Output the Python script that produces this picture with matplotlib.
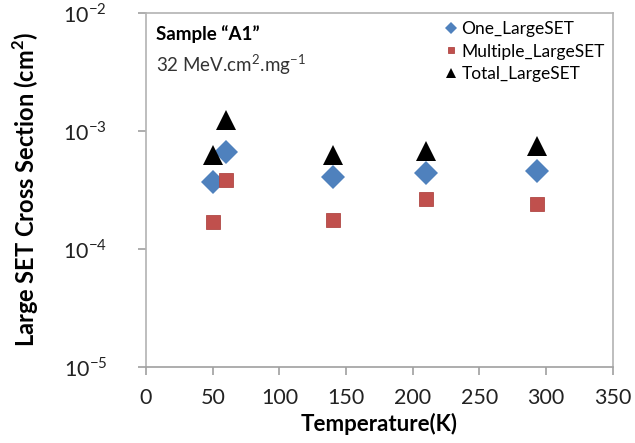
import matplotlib
matplotlib.use('Agg')
import matplotlib.pyplot as plt

plt.rcParams['font.family'] = ['Lato', 'DejaVu Sans']
plt.rcParams['mathtext.fontset'] = 'custom'
plt.rcParams['mathtext.rm'] = 'Lato'
plt.rcParams['mathtext.bf'] = 'Lato:bold'

# temperatures (K) and cross sections (cm^2)
temp = [50, 60, 140, 210, 293]
one_large = [3.65e-4, 6.6e-4, 4.05e-4, 4.35e-4, 4.55e-4]
multiple_large = [1.68e-4, 3.8e-4, 1.75e-4, 2.62e-4, 2.4e-4]
total_large = [6.2e-4, 1.23e-3, 6.25e-4, 6.8e-4, 7.4e-4]

x_ticks = [0, 50, 100, 150, 200, 250, 300, 350]
y_ticks = [1e-5, 1e-4, 1e-3, 1e-2]
y_tick_labels = ['$10^{-5}$', '$10^{-4}$', '$10^{-3}$', '$10^{-2}$']

fig = plt.figure(figsize=(6.35, 4.43), dpi=100)
ax = fig.add_axes([0.230, 0.172, 0.735, 0.799])

ax.plot(temp, one_large, 'D', color='#4f81bd', markersize=12, markeredgewidth=0,
        label='One_LargeSET')
ax.plot(temp, multiple_large, 's', color='#c0504d', markersize=10,
        markeredgecolor='#b04845', markeredgewidth=0.6, label='Multiple_LargeSET')
ax.plot(temp, total_large, '^', color='black', markersize=15, markeredgewidth=0,
        label='Total_LargeSET')

ax.set_yscale('log')
ax.set_xlim(0, 350)
ax.set_ylim(1e-5, 1e-2)
ax.set_xticks(x_ticks)
ax.set_xticklabels([str(t) for t in x_ticks])
ax.set_yticks(y_ticks)
ax.set_yticklabels(y_tick_labels)
ax.yaxis.set_minor_locator(matplotlib.ticker.NullLocator())

for s in ax.spines.values():
    s.set_color('#b3b3b3')
    s.set_linewidth(1.2)
ax.spines['bottom'].set_color('#a0a0a0')
ax.tick_params(axis='both', colors='#a0a0a0', length=6, width=1.2,
               labelsize=15.5, labelcolor='#222222')
ax.tick_params(axis='x', pad=9)
ax.tick_params(axis='y', pad=22)

ax.set_xlabel('Temperature(K)', fontsize=16, fontweight='bold', labelpad=4)
ax.set_ylabel('Large SET Cross Section (cm$^\\mathbf{2}$)', fontsize=17,
              fontweight='bold', labelpad=16)

ax.text(0.022, 0.965, 'Sample \u201cA1\u201d', transform=ax.transAxes,
        fontsize=13.5, fontweight='bold', va='top', ha='left')
ax.text(0.022, 0.89, '32 MeV.cm$^{2}$.mg$^{-1}$', transform=ax.transAxes,
        fontsize=13.5, va='top', ha='left', color='#333333')

leg = ax.legend(loc='upper right', bbox_to_anchor=(1.005, 1.005), frameon=False,
                fontsize=12.5, markerscale=0.5, handlelength=0.6,
                handletextpad=0.3, labelspacing=0.35, borderaxespad=0.2)

fig.savefig('out.png', dpi=100)
